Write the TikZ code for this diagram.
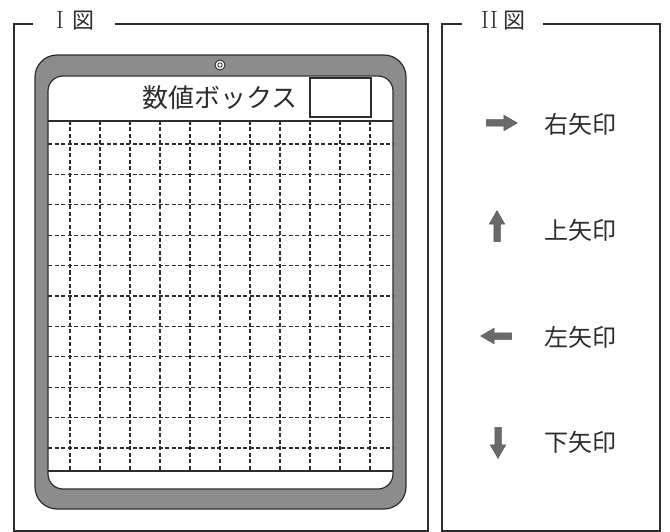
\documentclass[tikz,border=0pt]{standalone}
\usepackage{fontspec}
\newfontfamily\jp{Noto Sans CJK JP}
\usetikzlibrary{shapes.arrows}
\definecolor{ink}{RGB}{45,45,45}
\definecolor{bezel}{RGB}{140,140,140}
\definecolor{arrowgray}{RGB}{105,105,105}
\tikzset{
  frameline/.style={draw=ink, line width=1.5pt},
  gridline/.style={draw=ink, line width=1.1pt, dash pattern=on 4pt off 2.5pt},
  solidline/.style={draw=ink, line width=1.3pt},
  title/.style={font=\jp\fontsize{22}{22}\selectfont, text=ink, inner sep=0pt},
  label/.style={font=\jp\fontsize{24}{24}\selectfont, text=ink, inner sep=0pt},
  arrowshape/.style={single arrow, fill=arrowgray, draw=ink!80, line width=0.5pt,
    minimum height=31pt, inner sep=3pt, single arrow head extend=4.5pt,
    single arrow tip angle=60, single arrow head indent=0pt}
}
\newcommand{\romnum}[1]{{\rmfamily\fontsize{25}{25}\selectfont #1}}
\begin{document}
\begin{tikzpicture}[x=1pt,y=-1pt]
\useasboundingbox (0,0) rectangle (670,532);
% frame I
\node[title] (t1) at (75,21) {\romnum{I}\hspace{8pt}図};
\coordinate (f1a) at (33,24);
\coordinate (f1b) at (115,24);
\draw[frameline] (f1a) -- (14,24) -- (14,531) -- (428,531) -- (428,24) -- (f1b);
% frame II
\node[title] (t2) at (503,21) {\romnum{II}\hspace{5pt}図};
\coordinate (f2a) at (462,24);
\coordinate (f2b) at (543,24);
\draw[frameline] (f2a) -- (442,24) -- (442,531) -- (660,531) -- (660,24) -- (f2b);
% tablet
\draw[fill=bezel, draw=ink, line width=1.2pt, rounded corners=22pt] (35,55) rectangle (406,509);
\draw[fill=white, draw=ink, line width=1.2pt, rounded corners=15pt] (48,76) rectangle (393,489);
% camera
\draw[fill=white, draw=ink, line width=0.9pt] (220,65) circle (5pt);
\draw[draw=ink, line width=0.9pt] (220,65) circle (2.2pt);
% header
\draw[solidline] (48,121) -- (393,121);
\draw[solidline] (48,471) -- (393,471);
\node[font=\jp\fontsize{26}{26}\selectfont, text=ink, inner sep=0pt] (hdr) at (220,98) {数値ボックス};
\node[draw=ink, line width=1.3pt, minimum width=61pt, minimum height=39pt, inner sep=0pt] (box) at (340.5,97.5) {};
% grid
\foreach \x in {70,100,...,370} {\draw[gridline] (\x,121) -- (\x,471);}
\foreach \k in {0,...,10} {\draw[gridline] (48,144+30.4*\k) -- (393,144+30.4*\k);}
% legend
\node[arrowshape] (ar) at (499,123) {};
\node[label] (lr) at (580,124) {右矢印};
\node[arrowshape, shape border rotate=90] (au) at (497,229) {};
\node[label] (lu) at (580,230) {上矢印};
\node[arrowshape, shape border rotate=180] (al) at (499,336) {};
\node[label] (ll) at (580,337) {左矢印};
\node[arrowshape, shape border rotate=270] (ad) at (498,440) {};
\node[label] (ld) at (580,442) {下矢印};
\end{tikzpicture}
\end{document}
